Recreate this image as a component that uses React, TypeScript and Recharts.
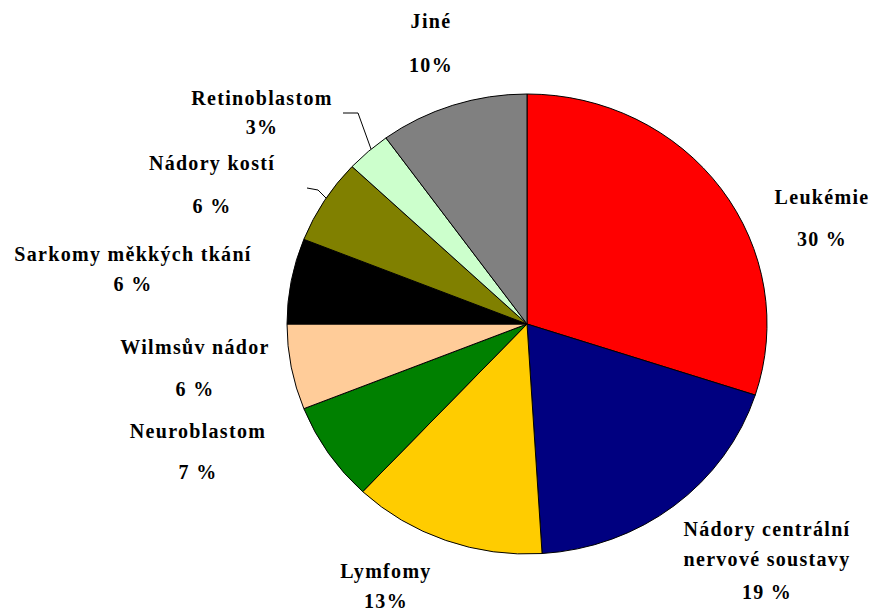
import { PieChart, Pie, Cell } from 'recharts';

const nazvy = [
  'Leukémie',
  'Nádory centrální|nervové soustavy',
  'Lymfomy',
  'Neuroblastom',
  'Wilmsův nádor',
  'Sarkomy měkkých tkání',
  'Nádory kostí',
  'Retinoblastom',
  'Jiné',
];
const procenta = [30, 19, 13, 7, 6, 6, 6, 3, 10];
const popiskyProcent = ['30 %', '19 %', '13%', '7 %', '6 %', '6 %', '6 %', '3%', '10%'];
const barvy = ['#FF0000', '#000080', '#FFCC00', '#008000', '#FFCC99', '#000000', '#808000', '#CCFFCC', '#808080'];

const dataGrafu = nazvy.map((n, i) => ({ name: n, value: procenta[i], popisek: popiskyProcent[i] }));

// rozmístění popisků vůči středu koláče: [dx, baseline y řádků...]
const rozlozeni: { dx: number; radky: number[] }[] = [
  { dx: 295, radky: [-120, -78] },
  { dx: 240, radky: [212, 242, 275] },
  { dx: -141, radky: [254, 284] },
  { dx: -329, radky: [114, 155] },
  { dx: -332, radky: [30, 72] },
  { dx: -394, radky: [-63, -33] },
  { dx: -315, radky: [-154, -111] },
  { dx: -265, radky: [-219, -190] },
  { dx: -96, radky: [-296, -252] },
];

const vodiciCary: Record<number, number[][]> = {
  6: [[-220, -136], [-209, -134], [-201, -126]],
  7: [[-184, -211], [-169, -211], [-156, -175]],
};

const RX = 240;
const RY = 230;

const ElipsaVysec = (props: any) => {
  const { cx, cy, startAngle, endAngle, fill } = props;
  const rad = Math.PI / 180;
  const x1 = cx + RX * Math.cos(startAngle * rad);
  const y1 = cy - RY * Math.sin(startAngle * rad);
  const x2 = cx + RX * Math.cos(endAngle * rad);
  const y2 = cy - RY * Math.sin(endAngle * rad);
  const velky = Math.abs(startAngle - endAngle) > 180 ? 1 : 0;
  const d = `M${cx},${cy} L${x1},${y1} A${RX},${RY} 0 ${velky} 1 ${x2},${y2} Z`;
  return <path d={d} fill={fill} stroke="#000" strokeWidth={1} />;
};

const Popisek = (props: any) => {
  const { cx, cy, index } = props;
  const r = rozlozeni[index];
  const radky = [...nazvy[index].split('|'), popiskyProcent[index]];
  const cara = vodiciCary[index];
  return (
    <g>
      {cara && (
        <polyline
          points={cara.map(([x, y]) => `${cx + x},${cy + y}`).join(' ')}
          fill="none"
          stroke="#000"
          strokeWidth={1}
        />
      )}
      {radky.map((t, i) => (
        <text
          key={i}
          x={cx + r.dx}
          y={cy + r.radky[i]}
          textAnchor="middle"
          fontFamily="'Liberation Serif', 'Times New Roman', serif"
          fontWeight="bold"
          fontSize={20}
          letterSpacing={1.3}
          fill="#000"
        >
          {t}
        </text>
      ))}
    </g>
  );
};

export default function App() {
  return (
    <div style={{ position: 'absolute', left: 0, top: 0, background: '#fff' }}>
      <PieChart width={889} height={611} margin={{ top: 0, right: 0, bottom: 0, left: 0 }}>
        <Pie
          data={dataGrafu}
          dataKey="value"
          nameKey="name"
          cx={527}
          cy={324}
          outerRadius={235}
          startAngle={90}
          endAngle={-270}
          shape={ElipsaVysec}
          label={Popisek}
          labelLine={false}
          isAnimationActive={false}
        >
          {dataGrafu.map((_, i) => (
            <Cell key={i} fill={barvy[i]} />
          ))}
        </Pie>
      </PieChart>
    </div>
  );
}
